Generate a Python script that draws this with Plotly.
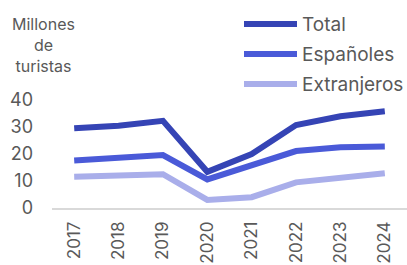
import plotly.graph_objects as go

years = ["2017", "2018", "2019", "2020", "2021", "2022", "2023", "2024"]
total = [29.5, 30.5, 32.3, 13.4, 20.0, 30.7, 34.0, 35.8]
espanoles = [17.6, 18.4, 19.6, 10.6, 15.9, 21.1, 22.5, 22.8]
extranjeros = [11.6, 11.9, 12.5, 3.0, 4.0, 9.5, 11.4, 12.9]
y_ticks = [0, 10, 20, 30, 40]

series = [
    ("Total", total, "#3544b5"),
    ("Españoles", espanoles, "#4a5ad8"),
    ("Extranjeros", extranjeros, "#a9aeea"),
]

FONT = "Inter"
GREY = "#595959"

W, H = 407, 265
L, R, T, B = 52, 0, 100, 57
pw, ph = W - L - R, H - T - B


def px2paper(x, y):
    return (x - L) / pw, (H - B - y) / ph


fig = go.Figure()
for name, vals, color in series:
    fig.add_trace(go.Scatter(x=years, y=vals, name=name, mode="lines",
                             line=dict(color=color, width=6), showlegend=False,
                             hoverinfo="skip"))

shapes = []
annotations = []
for i, (name, vals, color) in enumerate(series):
    yp = 24 + 30 * i
    x0, y0 = px2paper(244, yp)
    x1, _ = px2paper(297, yp)
    shapes.append(dict(type="line", xref="paper", yref="paper", x0=x0, x1=x1, y0=y0, y1=y0,
                       line=dict(color=color, width=6)))
    tx, _ = px2paper(300, yp)
    annotations.append(dict(xref="paper", yref="paper", x=tx, y=y0, text=name,
                            showarrow=False, xanchor="left", yanchor="middle",
                            font=dict(family=FONT, size=19, color=GREY)))

tx, ty = px2paper(43, 45)
annotations.append(dict(xref="paper", yref="paper", x=tx, y=ty,
                        text="Millones<br>de<br>turistas", showarrow=False,
                        xanchor="center", yanchor="middle", align="center",
                        font=dict(family=FONT, size=16, color=GREY)))

fig.update_layout(
    width=W, height=H,
    margin=dict(l=L, r=R, t=T, b=B, autoexpand=False),
    paper_bgcolor="white", plot_bgcolor="white",
    shapes=shapes, annotations=annotations,
    xaxis=dict(type="category", range=[-0.5, 7.5], tickangle=-90, showgrid=False,
               showline=True, linecolor="#d9d9d9", linewidth=1.5, ticks="",
               automargin=False,
               tickfont=dict(family=FONT, size=17, color=GREY), ticklabelstandoff=5),
    yaxis=dict(range=[0, 40], tickvals=y_ticks, showgrid=False, zeroline=False,
               showline=False, ticks="", automargin=False,
               tickfont=dict(family=FONT, size=18, color=GREY), ticklabelstandoff=18),
)
fig.write_html("out.html", config={"displayModeBar": False},
               post_script="document.body.style.margin='0';")
